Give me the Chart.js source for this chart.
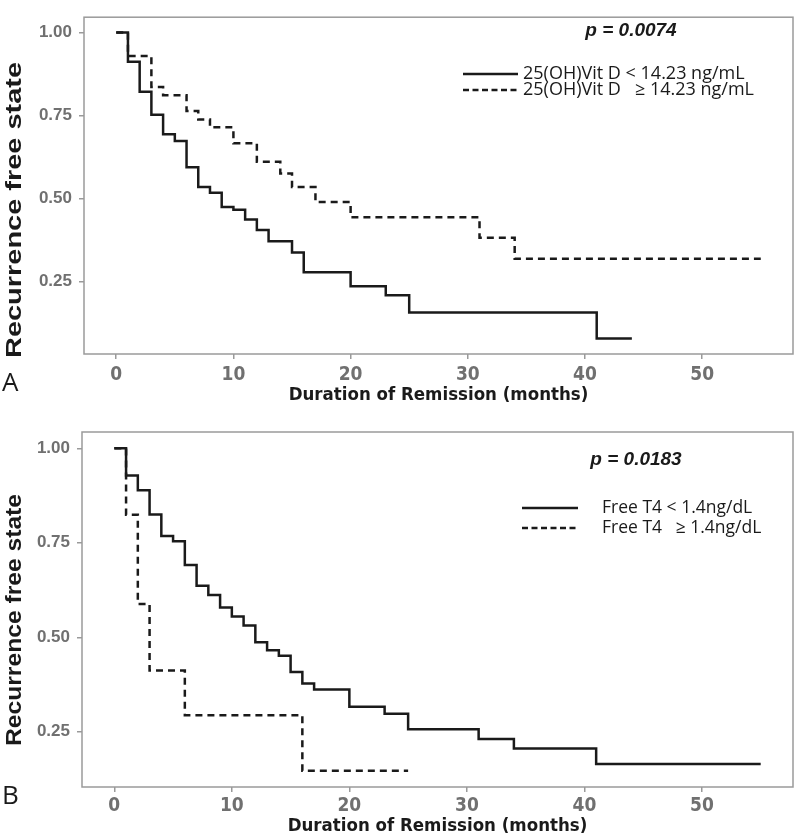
<!DOCTYPE html>
<html>
<head>
<meta charset="utf-8">
<script src="https://cdn.jsdelivr.net/npm/chart.js@4.4.1/dist/chart.umd.min.js"></script>
<style>
  html, body { margin: 0; padding: 0; background: #fff; }
  canvas { position: absolute; left: 0; }
  #chartA { top: 0; }
  #chartB { top: 414px; }
</style>
</head>
<body>
<canvas id="chartA" width="800" height="414"></canvas>
<canvas id="chartB" width="800" height="424"></canvas>
<script>
// Panel A - 25(OH)Vit D groups (months, survival)
const monthsVitDLow = [0, 1, 2, 3, 4, 5, 6, 7, 8, 9, 10, 11, 12, 13, 15, 16, 20, 23, 25, 41, 44];
const survVitDLow = [1, 0.912, 0.821, 0.752, 0.693, 0.673, 0.594, 0.534, 0.517, 0.474, 0.466, 0.436, 0.405, 0.371, 0.337, 0.277, 0.235, 0.208, 0.156, 0.078, 0.078];
const monthsVitDHigh = [0, 1, 3, 4, 6, 7, 8, 10, 12, 14, 15, 17, 20, 31, 34, 55];
const survVitDHigh = [1, 0.929, 0.836, 0.811, 0.763, 0.738, 0.714, 0.666, 0.610, 0.575, 0.534, 0.489, 0.443, 0.381, 0.318, 0.318];

// Panel B - Free T4 groups
const monthsT4Low = [0, 1, 2, 3, 4, 5, 6, 7, 8, 9, 10, 11, 12, 13, 14, 15, 16, 17, 20, 23, 25, 31, 34, 41, 55];
const survT4Low = [1, 0.928, 0.889, 0.825, 0.768, 0.754, 0.691, 0.636, 0.612, 0.579, 0.555, 0.531, 0.487, 0.466, 0.451, 0.408, 0.378, 0.362, 0.316, 0.298, 0.257, 0.231, 0.206, 0.165, 0.165];
const monthsT4High = [0, 1, 2, 3, 6, 16, 25];
const survT4High = [1, 0.824, 0.588, 0.412, 0.294, 0.147, 0.147];

// Axis ticks
const monthTicks = [0, 10, 20, 30, 40, 50];
const survTicks = [0.25, 0.50, 0.75, 1.00];

const INK = '#1a1a1a';
const FRAME = '#9a9a9a';
const TICK_TEXT = '#707070';
const NARROW = '"DejaVu Sans Condensed", "Liberation Sans Narrow", "Liberation Sans", sans-serif';
const SANS = '"Liberation Sans", Arial, sans-serif';
const Y_TITLE = 'Recurrence free state';

function toPoints(months, surv) {
  return months.map((m, i) => ({ x: m, y: surv[i] }));
}

// Frame box, y title, p value, legend and panel letter
const panelDecor = {
  id: 'panelDecor',
  afterDatasetsDraw(chart, args, o) {
    const { ctx, chartArea: a } = chart;
    ctx.save();
    ctx.strokeStyle = FRAME;
    ctx.lineWidth = 1.5;
    ctx.strokeRect(a.left, a.top, a.right - a.left, a.bottom - a.top);

    // y axis title, stretched to the reference length
    ctx.save();
    ctx.fillStyle = INK;
    ctx.translate(o.yTitle.x, o.yTitle.y);
    ctx.rotate(-Math.PI / 2);
    ctx.font = 'bold 22px ' + SANS;
    ctx.scale(o.yTitle.len / ctx.measureText(Y_TITLE).width, 1);
    ctx.textAlign = 'center';
    ctx.textBaseline = 'middle';
    ctx.fillText(Y_TITLE, 0, 0);
    ctx.restore();

    ctx.fillStyle = INK;
    ctx.textBaseline = 'middle';
    ctx.textAlign = 'center';
    ctx.font = 'italic bold 19px ' + SANS;
    ctx.fillText(o.pText, o.pX, o.pY);

    ctx.textAlign = 'left';
    ctx.font = o.legendSize + 'px "Open Sans", sans-serif';
    o.rows.forEach((row, i) => {
      const y = o.rowY[i];
      ctx.strokeStyle = INK;
      ctx.lineWidth = 2.5;
      ctx.setLineDash(row.dash);
      ctx.beginPath();
      ctx.moveTo(o.lineX[0], y);
      ctx.lineTo(o.lineX[1], y);
      ctx.stroke();
      ctx.setLineDash([]);
      ctx.fillText(row.label, o.textX, y);
    });

    ctx.font = '26px "Open Sans", sans-serif';
    ctx.textBaseline = 'alphabetic';
    ctx.fillText(o.letter, 2, o.letterY);
    ctx.restore();
  }
};

function makeChart(id, sets, dims, decor) {
  const ctx = document.getElementById(id).getContext('2d');
  return new Chart(ctx, {
    type: 'line',
    data: {
      datasets: sets.map(s => ({
        data: s.data,
        borderColor: INK,
        borderWidth: 2.5,
        borderDash: s.dash,
        stepped: true,
        pointRadius: 0,
        fill: false
      }))
    },
    options: {
      responsive: false,
      animation: false,
      layout: { padding: { top: dims.top, right: 7, bottom: 0, left: 0 } },
      plugins: {
        legend: { display: false },
        tooltip: { enabled: false },
        panelDecor: decor
      },
      scales: {
        x: {
          type: 'linear',
          min: -2.75,
          max: 57.75,
          afterBuildTicks: s => { s.ticks = monthTicks.map(v => ({ value: v })); },
          afterFit: s => { s.height = dims.xHeight; },
          grid: { drawOnChartArea: false, drawTicks: true, tickLength: 5, color: FRAME, lineWidth: 1.5 },
          border: { display: false },
          ticks: {
            color: TICK_TEXT,
            padding: dims.xTickPad,
            maxRotation: 0,
            font: { family: NARROW, size: 19, weight: 'bold' },
            callback: v => String(v)
          },
          title: {
            display: true,
            text: 'Duration of Remission (months)',
            color: INK,
            font: { family: NARROW, size: 18.5, weight: 'bold' },
            padding: { top: 0, bottom: dims.xTitlePad }
          }
        },
        y: {
          min: dims.yMin,
          max: dims.yMax,
          afterBuildTicks: s => { s.ticks = survTicks.map(v => ({ value: v })); },
          afterFit: s => { s.width = dims.left; },
          grid: { drawOnChartArea: false, drawTicks: true, tickLength: 5, color: FRAME, lineWidth: 1.5 },
          border: { display: false },
          ticks: {
            color: TICK_TEXT,
            padding: 7,
            font: { family: SANS, size: 17, weight: 'bold' },
            callback: v => v.toFixed(2)
          },
          title: { display: false }
        }
      }
    },
    plugins: [panelDecor]
  });
}

makeChart('chartA', [
  { data: toPoints(monthsVitDHigh, survVitDHigh), dash: [7, 5] },
  { data: toPoints(monthsVitDLow, survVitDLow), dash: [] }
], { top: 1, xHeight: 60, xTickPad: 5, xTitlePad: 8, left: 84, yMin: 0.031, yMax: 1.046 }, {
  yTitle: { x: 15, y: 210, len: 296 },
  pText: 'p = 0.0074', pX: 631, pY: 31,
  rows: [
    { label: '25(OH)Vit D < 14.23 ng/mL', dash: [] },
    { label: '25(OH)Vit D   \u2265 14.23 ng/mL', dash: [6, 3.5] }
  ],
  legendSize: 18,
  rowY: [74, 90], lineX: [463, 518], textX: 523,
  letter: 'A', letterY: 391
});

makeChart('chartB', [
  { data: toPoints(monthsT4High, survT4High), dash: [7, 5] },
  { data: toPoints(monthsT4Low, survT4Low), dash: [] }
], { top: 18, xHeight: 51, xTickPad: 3, xTitlePad: 1, left: 82, yMin: 0.104, yMax: 1.043 }, {
  yTitle: { x: 15, y: 206, len: 252 },
  pText: 'p = 0.0183', pX: 636, pY: 46,
  rows: [
    { label: 'Free T4 < 1.4ng/dL', dash: [] },
    { label: 'Free T4   \u2265 1.4ng/dL', dash: [6, 3.5] }
  ],
  legendSize: 17.5,
  rowY: [94, 114], lineX: [522, 578], textX: 602,
  letter: 'B', letterY: 390
});
</script>
</body>
</html>
